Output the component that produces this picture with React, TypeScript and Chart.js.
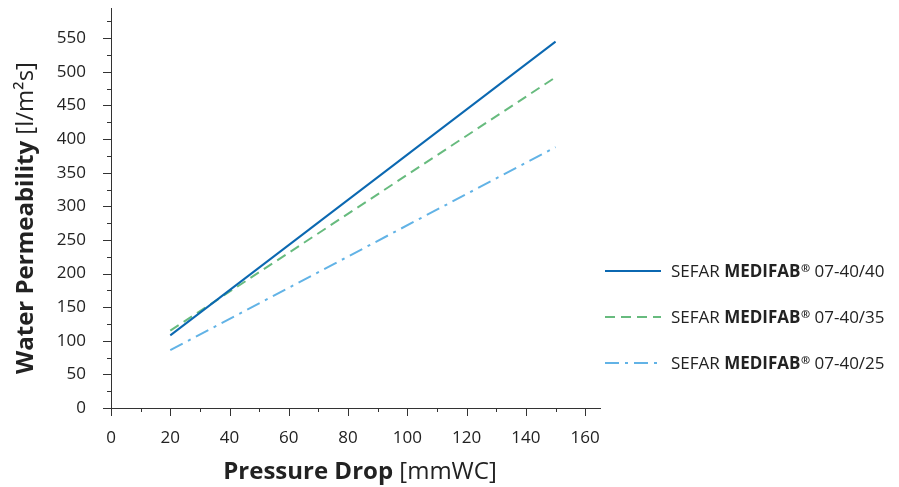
import React, { useEffect, useRef } from "react";
import { Chart, registerables } from "chart.js";

Chart.register(...registerables);

// ---- data ----
const pressureDrop = [20, 150];
const series4040 = [108, 545];
const series4035 = [115, 492];
const series4025 = [86, 388];
const seriesSuffixes = ["07-40/40", "07-40/35", "07-40/25"];
const seriesPrefix = "SEFAR ";
const seriesBrand = "MEDIFAB";
const seriesMark = "®";
const xMajorTicks = [0, 20, 40, 60, 80, 100, 120, 140, 160];
const xMinorTicks = [10, 30, 50, 70, 90, 110, 130, 150];
const yMajorTicks = [0, 50, 100, 150, 200, 250, 300, 350, 400, 450, 500, 550];
const yMinorTicks = [25, 75, 125, 175, 225, 275, 325, 375, 425, 475, 525, 575];
const xTitleBold = "Pressure Drop";
const xTitleRest = " [mmWC]";
const yTitleBold = "Water Permeability";
const yTitleRest = " [l/m²s]";

const colors = ["#0b68b1", "#67bb7e", "#62b3e6"];
const dashes: number[][] = [[], [10, 6], [14, 6, 3, 6]];
const FONT = "'Open Sans', 'Noto Sans', sans-serif";
const TEXT = "#222222";

const decorPlugin = {
  id: "decor",
  afterDraw(chart: any) {
    const ctx = chart.ctx as CanvasRenderingContext2D;
    const xs = chart.scales.x;
    const ys = chart.scales.y;
    const area = chart.chartArea;
    ctx.save();
    // tick marks
    ctx.strokeStyle = "#333333";
    ctx.lineWidth = 1;
    const drawX = (v: number, len: number) => {
      const px = Math.round(xs.getPixelForValue(v)) + 0.5;
      ctx.beginPath();
      ctx.moveTo(px, area.bottom);
      ctx.lineTo(px, area.bottom + len);
      ctx.stroke();
    };
    const drawY = (v: number, len: number) => {
      const py = Math.round(ys.getPixelForValue(v)) + 0.5;
      ctx.beginPath();
      ctx.moveTo(area.left, py);
      ctx.lineTo(area.left - len, py);
      ctx.stroke();
    };
    xMajorTicks.forEach((v) => drawX(v, 8));
    xMinorTicks.forEach((v) => drawX(v, 4));
    yMajorTicks.forEach((v) => drawY(v, 8));
    yMinorTicks.forEach((v) => drawY(v, 4));

    // x title
    ctx.fillStyle = TEXT;
    ctx.textBaseline = "alphabetic";
    ctx.textAlign = "left";
    ctx.font = `bold 24px ${FONT}`;
    const wb = ctx.measureText(xTitleBold).width;
    ctx.font = `24px ${FONT}`;
    const wr = ctx.measureText(xTitleRest).width;
    const x0 = 360 - (wb + wr) / 2;
    ctx.font = `bold 24px ${FONT}`;
    ctx.fillText(xTitleBold, x0, 479);
    ctx.font = `24px ${FONT}`;
    ctx.fillText(xTitleRest, x0 + wb, 479);

    // y title
    ctx.save();
    ctx.translate(33, 218);
    ctx.rotate(-Math.PI / 2);
    ctx.font = `bold 24px ${FONT}`;
    const yb = ctx.measureText(yTitleBold).width;
    ctx.font = `24px ${FONT}`;
    const yr = ctx.measureText(yTitleRest).width;
    const y0 = -(yb + yr) / 2;
    ctx.font = `bold 24px ${FONT}`;
    ctx.fillText(yTitleBold, y0, 0);
    ctx.font = `24px ${FONT}`;
    ctx.fillText(yTitleRest, y0 + yb, 0);
    ctx.restore();

    // legend
    const rows = [271, 317, 363];
    rows.forEach((ry, i) => {
      ctx.save();
      ctx.strokeStyle = colors[i];
      ctx.lineWidth = 2;
      ctx.setLineDash(dashes[i]);
      ctx.beginPath();
      ctx.moveTo(605, ry);
      ctx.lineTo(661, ry);
      ctx.stroke();
      ctx.restore();
      ctx.fillStyle = TEXT;
      ctx.textBaseline = "alphabetic";
      ctx.textAlign = "left";
      const base = ry + 6;
      let tx = 671;
      ctx.font = `17px ${FONT}`;
      ctx.fillText(seriesPrefix, tx, base);
      tx += ctx.measureText(seriesPrefix).width;
      ctx.font = `bold 17px ${FONT}`;
      ctx.fillText(seriesBrand, tx, base);
      tx += ctx.measureText(seriesBrand).width + 0.5;
      ctx.font = `bold 11px ${FONT}`;
      ctx.fillText(seriesMark, tx, base - 5);
      tx += ctx.measureText(seriesMark).width;
      ctx.font = `17px ${FONT}`;
      ctx.fillText(" " + seriesSuffixes[i], tx, base);
    });
    ctx.restore();
  },
};

export default function App() {
  const ref = useRef<HTMLCanvasElement | null>(null);
  useEffect(() => {
    if (!ref.current) return;
    const mk = (vals: number[]) => pressureDrop.map((x, i) => ({ x, y: vals[i] }));
    const allSeries = [series4040, series4035, series4025];
    const chart = new Chart(ref.current, {
      type: "line",
      data: {
        datasets: allSeries.map((s, i) => ({
          label: seriesPrefix + seriesBrand + seriesMark + " " + seriesSuffixes[i],
          data: mk(s),
          borderColor: colors[i],
          backgroundColor: colors[i],
          borderWidth: 2,
          borderDash: dashes[i],
          pointRadius: 0,
          fill: false,
          tension: 0,
        })),
      },
      options: {
        responsive: false,
        animation: false,
        layout: { padding: { left: 0, right: 299, top: 8, bottom: 0 } },
        plugins: { legend: { display: false }, tooltip: { enabled: false } },
        scales: {
          x: {
            type: "linear",
            min: 0,
            max: 165,
            grid: { display: false },
            border: { display: true, color: "#333333", width: 1 },
            afterBuildTicks: (s: any) => {
              s.ticks = xMajorTicks.map((v) => ({ value: v }));
            },
            afterFit: (s: any) => {
              s.height = 79;
              s.paddingLeft = 0;
              s.paddingRight = 0;
            },
            ticks: {
              color: TEXT,
              font: { family: FONT, size: 17 },
              padding: 12,
              maxRotation: 0,
            },
          },
          y: {
            type: "linear",
            min: 0,
            max: 595,
            grid: { display: false },
            border: { display: true, color: "#333333", width: 1 },
            afterBuildTicks: (s: any) => {
              s.ticks = yMajorTicks.map((v) => ({ value: v }));
            },
            afterFit: (s: any) => {
              s.width = 111;
              s.paddingTop = 0;
              s.paddingBottom = 0;
            },
            ticks: {
              color: TEXT,
              font: { family: FONT, size: 17 },
              padding: 17,
            },
          },
        },
      },
      plugins: [decorPlugin],
    } as any);
    return () => chart.destroy();
  }, []);
  return (
    <div style={{ position: "absolute", left: 0, top: 0, width: 899, height: 487, background: "#fff" }}>
      <canvas ref={ref} width={899} height={487} />
    </div>
  );
}
